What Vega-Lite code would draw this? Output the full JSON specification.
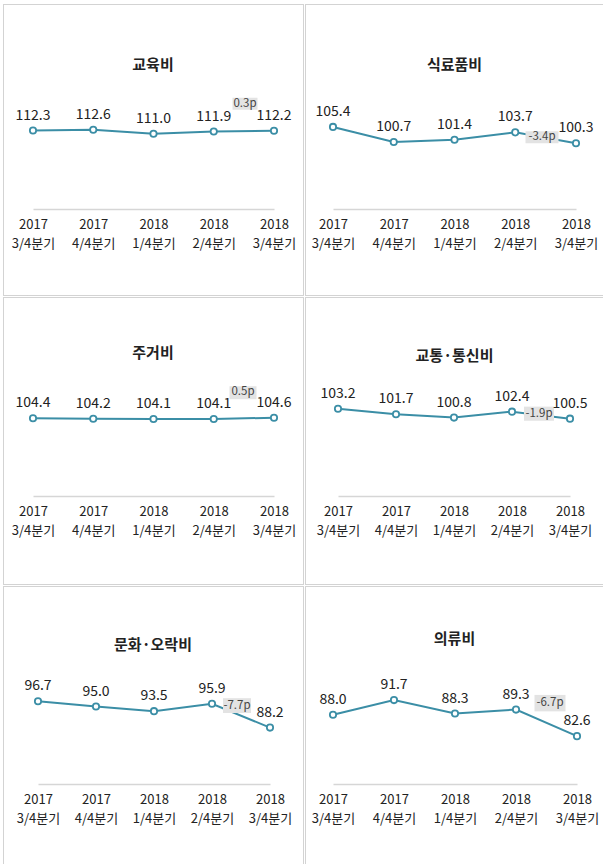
{
  "$schema": "https://vega.github.io/schema/vega-lite/v6.json",
  "background": "white",
  "padding": {"left": 2, "top": 3, "right": 0, "bottom": 0},
  "spacing": 0,
  "datasets": {
    "edu": [
      {"q": "2017 3/4분기", "v": 112.3},
      {"q": "2017 4/4분기", "v": 112.6},
      {"q": "2018 1/4분기", "v": 111.0},
      {"q": "2018 2/4분기", "v": 111.9},
      {"q": "2018 3/4분기", "v": 112.2, "chg": "0.3p"}
    ],
    "food": [
      {"q": "2017 3/4분기", "v": 105.4},
      {"q": "2017 4/4분기", "v": 100.7},
      {"q": "2018 1/4분기", "v": 101.4},
      {"q": "2018 2/4분기", "v": 103.7},
      {"q": "2018 3/4분기", "v": 100.3, "chg": "-3.4p"}
    ],
    "housing": [
      {"q": "2017 3/4분기", "v": 104.4},
      {"q": "2017 4/4분기", "v": 104.2},
      {"q": "2018 1/4분기", "v": 104.1},
      {"q": "2018 2/4분기", "v": 104.1},
      {"q": "2018 3/4분기", "v": 104.6, "chg": "0.5p"}
    ],
    "transport": [
      {"q": "2017 3/4분기", "v": 103.2},
      {"q": "2017 4/4분기", "v": 101.7},
      {"q": "2018 1/4분기", "v": 100.8},
      {"q": "2018 2/4분기", "v": 102.4},
      {"q": "2018 3/4분기", "v": 100.5, "chg": "-1.9p"}
    ],
    "culture": [
      {"q": "2017 3/4분기", "v": 96.7},
      {"q": "2017 4/4분기", "v": 95.0},
      {"q": "2018 1/4분기", "v": 93.5},
      {"q": "2018 2/4분기", "v": 95.9},
      {"q": "2018 3/4분기", "v": 88.2, "chg": "-7.7p"}
    ],
    "clothing": [
      {"q": "2017 3/4분기", "v": 88.0},
      {"q": "2017 4/4분기", "v": 91.7},
      {"q": "2018 1/4분기", "v": 88.3},
      {"q": "2018 2/4분기", "v": 89.3},
      {"q": "2018 3/4분기", "v": 82.6, "chg": "-6.7p"}
    ]
  },
  "vconcat": [
    {
      "hconcat": [
        {
          "width": 300, "height": 291,
          "title": {"text": "교육비", "offset": -69},
          "data": {"name": "edu"},
          "encoding": {
            "x": {"field": "q", "type": "ordinal", "sort": null, "scale": {"type": "point", "range": [30, 271], "padding": 0}, "axis": {"offset": -86}},
            "y": {"field": "v", "type": "quantitative", "scale": {"domain": [46.5, 162.9]}, "axis": null}
          },
          "layer": [
            {"mark": {"type": "line", "color": "#3b8ea6", "strokeWidth": 2}},
            {"transform": [{"filter": "datum.chg"}], "mark": {"type": "point", "shape": "M-1,-0.48H1V0.48H-1Z", "size": 625, "filled": true, "color": "#e3e3e3", "opacity": 1, "xOffset": -29, "yOffset": -27}},
            {"transform": [{"filter": "datum.chg"}], "mark": {"type": "text", "fontSize": 11.5, "color": "#444", "dx": -29, "dy": -27}, "encoding": {"text": {"field": "chg"}}},
            {"mark": {"type": "point", "filled": true, "fill": "white", "stroke": "#3b8ea6", "strokeWidth": 1.8, "size": 40, "opacity": 1}},
            {"mark": {"type": "text", "dy": -15}, "encoding": {"text": {"field": "v", "format": ".1f"}}}
          ]
        },
        {
          "width": 299, "height": 291,
          "title": {"text": "식료품비", "offset": -69},
          "data": {"name": "food"},
          "encoding": {
            "x": {"field": "q", "type": "ordinal", "sort": null, "scale": {"type": "point", "range": [28, 271], "padding": 0}, "axis": {"offset": -86}},
            "y": {"field": "v", "type": "quantitative", "scale": {"domain": [52.9, 143.8]}, "axis": null}
          },
          "layer": [
            {"mark": {"type": "line", "color": "#3b8ea6", "strokeWidth": 2}},
            {"transform": [{"filter": "datum.chg"}], "mark": {"type": "point", "shape": "M-1,-0.37H1V0.37H-1Z", "size": 1089, "filled": true, "color": "#e3e3e3", "opacity": 1, "xOffset": -34, "yOffset": -6}},
            {"transform": [{"filter": "datum.chg"}], "mark": {"type": "text", "fontSize": 11.5, "color": "#444", "dx": -34, "dy": -6}, "encoding": {"text": {"field": "chg"}}},
            {"mark": {"type": "point", "filled": true, "fill": "white", "stroke": "#3b8ea6", "strokeWidth": 1.8, "size": 40, "opacity": 1}},
            {"mark": {"type": "text", "dy": -15}, "encoding": {"text": {"field": "v", "format": ".1f"}}}
          ]
        }
      ]
    },
    {
      "hconcat": [
        {
          "width": 300, "height": 287,
          "title": {"text": "주거비", "offset": -64},
          "data": {"name": "housing"},
          "encoding": {
            "x": {"field": "q", "type": "ordinal", "sort": null, "scale": {"type": "point", "range": [30, 271], "padding": 0}, "axis": {"offset": -88}},
            "y": {"field": "v", "type": "quantitative", "scale": {"domain": [38.1, 152.9]}, "axis": null}
          },
          "layer": [
            {"mark": {"type": "line", "color": "#3b8ea6", "strokeWidth": 2}},
            {"transform": [{"filter": "datum.chg"}], "mark": {"type": "point", "shape": "M-1,-0.48H1V0.48H-1Z", "size": 729, "filled": true, "color": "#e3e3e3", "opacity": 1, "xOffset": -31, "yOffset": -25}},
            {"transform": [{"filter": "datum.chg"}], "mark": {"type": "text", "fontSize": 11.5, "color": "#444", "dx": -31, "dy": -26}, "encoding": {"text": {"field": "chg"}}},
            {"mark": {"type": "point", "filled": true, "fill": "white", "stroke": "#3b8ea6", "strokeWidth": 1.8, "size": 40, "opacity": 1}},
            {"mark": {"type": "text", "dy": -15}, "encoding": {"text": {"field": "v", "format": ".1f"}}}
          ]
        },
        {
          "width": 299, "height": 287,
          "title": {"text": "교통·통신비", "offset": -67},
          "data": {"name": "transport"},
          "encoding": {
            "x": {"field": "q", "type": "ordinal", "sort": null, "scale": {"type": "point", "range": [33, 265], "padding": 0}, "axis": {"offset": -88}},
            "y": {"field": "v", "type": "quantitative", "scale": {"domain": [55.8, 133.4]}, "axis": null}
          },
          "layer": [
            {"mark": {"type": "line", "color": "#3b8ea6", "strokeWidth": 2}},
            {"transform": [{"filter": "datum.chg"}], "mark": {"type": "point", "shape": "M-1,-0.47H1V0.47H-1Z", "size": 900, "filled": true, "color": "#e3e3e3", "opacity": 1, "xOffset": -31, "yOffset": -5}},
            {"transform": [{"filter": "datum.chg"}], "mark": {"type": "text", "fontSize": 11.5, "color": "#444", "dx": -31, "dy": -5}, "encoding": {"text": {"field": "chg"}}},
            {"mark": {"type": "point", "filled": true, "fill": "white", "stroke": "#3b8ea6", "strokeWidth": 1.8, "size": 40, "opacity": 1}},
            {"mark": {"type": "text", "dy": -15}, "encoding": {"text": {"field": "v", "format": ".1f"}}}
          ]
        }
      ]
    },
    {
      "hconcat": [
        {
          "width": 300, "height": 286,
          "title": {"text": "문화·오락비", "offset": -67},
          "data": {"name": "culture"},
          "encoding": {
            "x": {"field": "q", "type": "ordinal", "sort": null, "scale": {"type": "point", "range": [35, 267], "padding": 0}, "axis": {"offset": -88}},
            "y": {"field": "v", "type": "quantitative", "scale": {"domain": [41.6, 133.9]}, "axis": null}
          },
          "layer": [
            {"mark": {"type": "line", "color": "#3b8ea6", "strokeWidth": 2}},
            {"transform": [{"filter": "datum.chg"}], "mark": {"type": "point", "shape": "M-1,-0.53H1V0.53H-1Z", "size": 784, "filled": true, "color": "#e3e3e3", "opacity": 1, "xOffset": -33, "yOffset": -22}},
            {"transform": [{"filter": "datum.chg"}], "mark": {"type": "text", "fontSize": 11.5, "color": "#444", "dx": -33, "dy": -22}, "encoding": {"text": {"field": "chg"}}},
            {"mark": {"type": "point", "filled": true, "fill": "white", "stroke": "#3b8ea6", "strokeWidth": 1.8, "size": 40, "opacity": 1}},
            {"mark": {"type": "text", "dy": -15}, "encoding": {"text": {"field": "v", "format": ".1f"}}}
          ]
        },
        {
          "width": 299, "height": 286,
          "title": {"text": "의류비", "offset": -61},
          "data": {"name": "clothing"},
          "encoding": {
            "x": {"field": "q", "type": "ordinal", "sort": null, "scale": {"type": "point", "range": [28, 272], "padding": 0}, "axis": {"offset": -88}},
            "y": {"field": "v", "type": "quantitative", "scale": {"domain": [48.3, 120.5]}, "axis": null}
          },
          "layer": [
            {"mark": {"type": "line", "color": "#3b8ea6", "strokeWidth": 2}},
            {"transform": [{"filter": "datum.chg"}], "mark": {"type": "point", "shape": "M-1,-0.53H1V0.53H-1Z", "size": 961, "filled": true, "color": "#e3e3e3", "opacity": 1, "xOffset": -27, "yOffset": -33}},
            {"transform": [{"filter": "datum.chg"}], "mark": {"type": "text", "fontSize": 11.5, "color": "#444", "dx": -27, "dy": -33}, "encoding": {"text": {"field": "chg"}}},
            {"mark": {"type": "point", "filled": true, "fill": "white", "stroke": "#3b8ea6", "strokeWidth": 1.8, "size": 40, "opacity": 1}},
            {"mark": {"type": "text", "dy": -15}, "encoding": {"text": {"field": "v", "format": ".1f"}}}
          ]
        }
      ]
    }
  ],
  "resolve": {"scale": {"x": "independent", "y": "independent"}},
  "config": {
    "font": "Noto Sans CJK KR",
    "concat": {"spacing": 0},
    "view": {"stroke": "#a6a6a6", "strokeDash": [1, 1], "strokeWidth": 1},
    "title": {"font": "Noto Sans CJK KR", "fontSize": 15, "fontWeight": "bold", "color": "#222", "anchor": "middle", "baseline": "middle"},
    "text": {"font": "Noto Sans CJK KR", "fontSize": 14, "color": "#222", "baseline": "middle"},
    "axis": {
      "title": null,
      "grid": false,
      "ticks": false,
      "domainColor": "#d6d6d6",
      "domainWidth": 1.5,
      "labelFont": "Noto Sans CJK KR",
      "labelFontSize": 13,
      "labelColor": "#222",
      "labelAngle": 0,
      "labelPadding": 9,
      "labelLineHeight": 19,
      "labelExpr": "split(datum.label, ' ')"
    }
  }
}
